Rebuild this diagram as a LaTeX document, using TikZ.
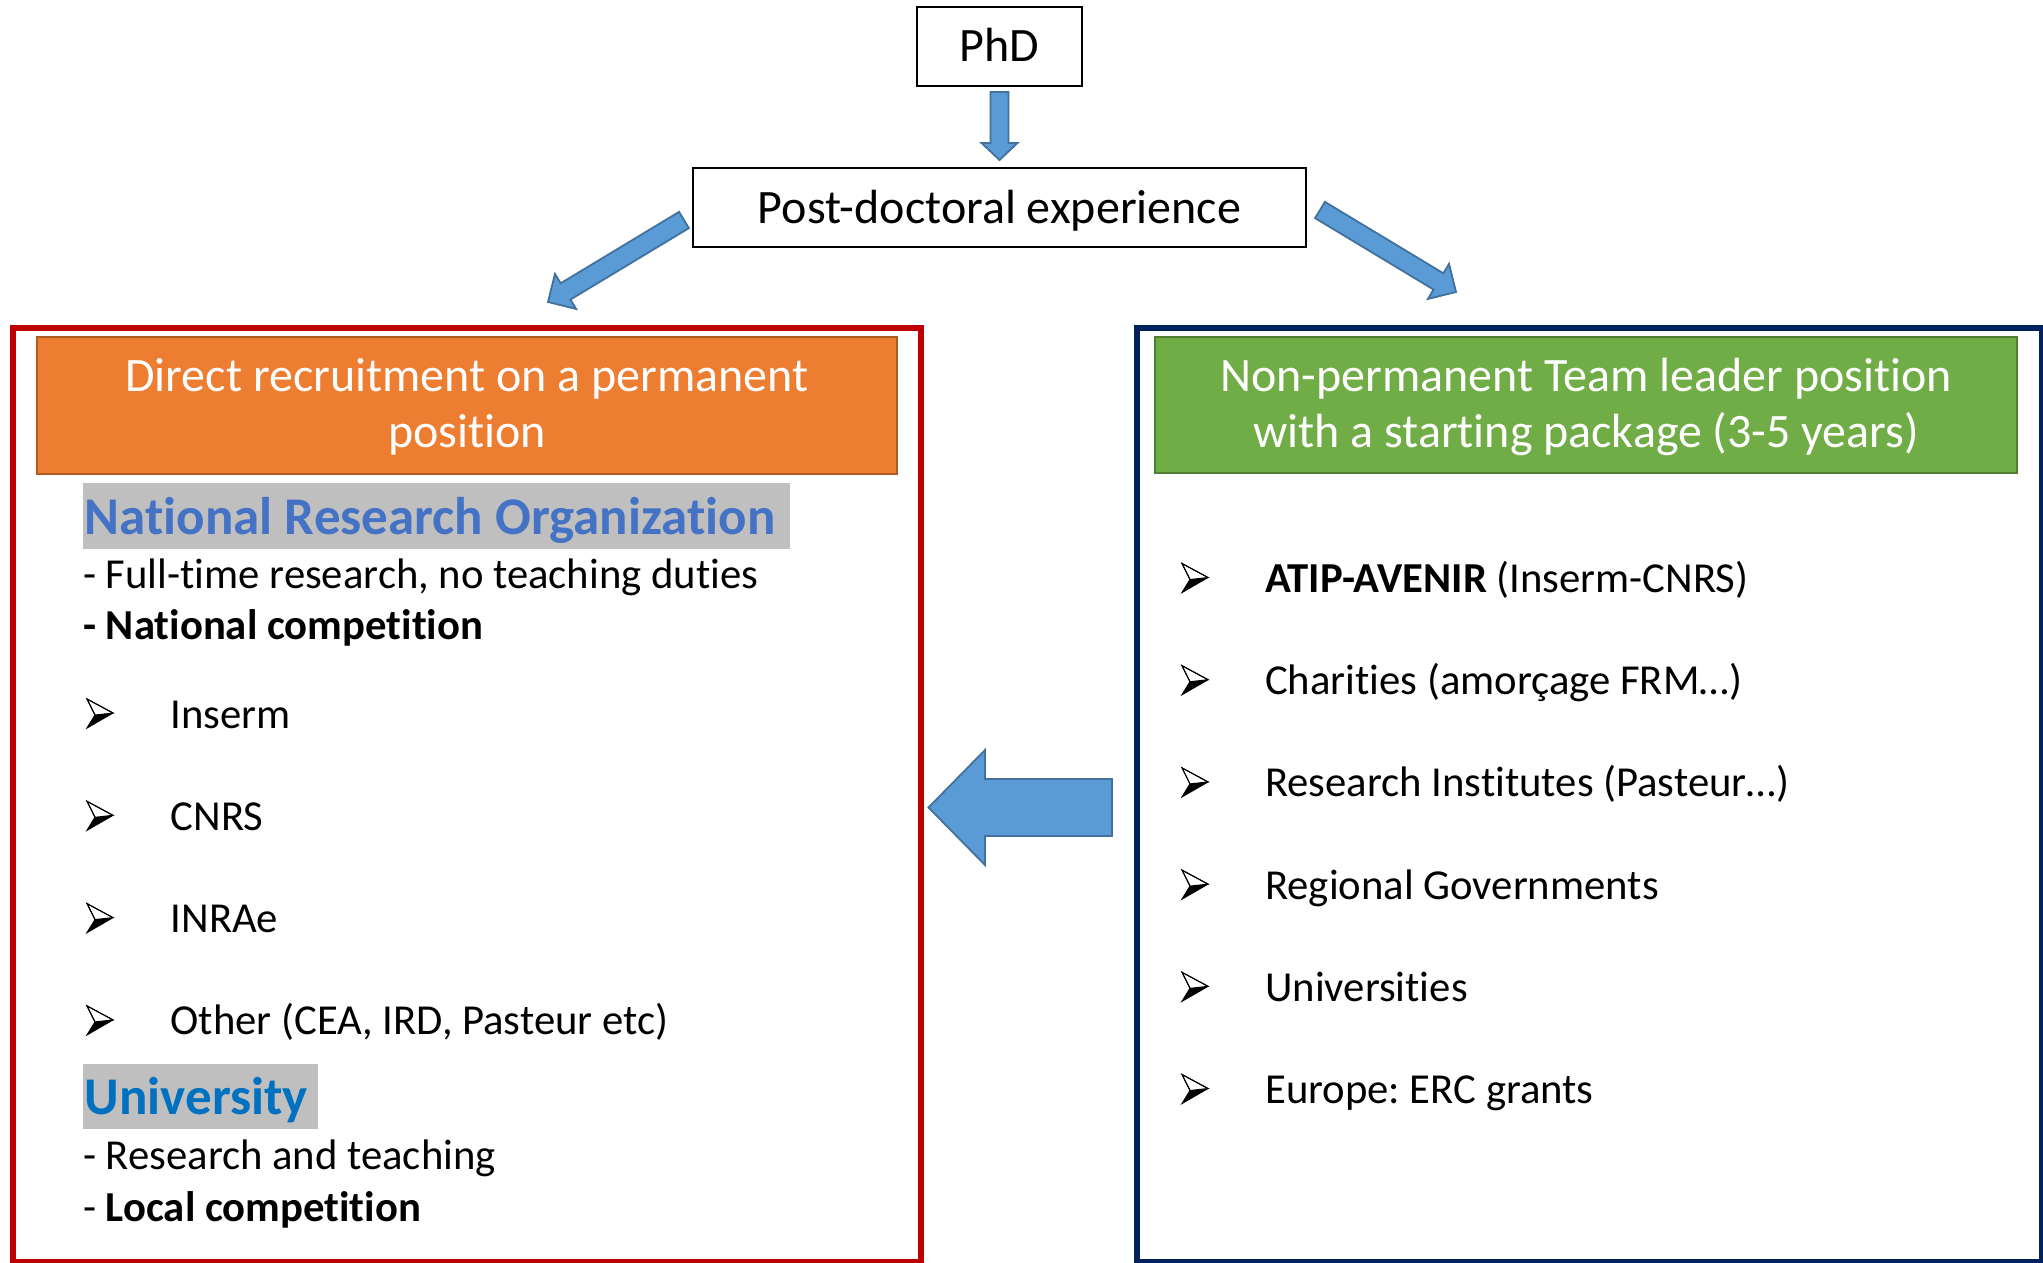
\documentclass[tikz,border=0pt]{standalone}
\usepackage{fontspec}
\setmainfont{Carlito}[Ligatures={NoCommon}]
\usetikzlibrary{calc}
\definecolor{arrfill}{HTML}{5B9BD5}
\definecolor{arrline}{HTML}{41719C}
\definecolor{redline}{HTML}{C00000}
\definecolor{navyline}{HTML}{002060}
\definecolor{orfill}{HTML}{ED7D31}
\definecolor{orline}{HTML}{AE5A21}
\definecolor{grfill}{HTML}{70AD47}
\definecolor{grline}{HTML}{507E32}
\definecolor{hlgray}{HTML}{BFBFBF}
\definecolor{nroblue}{HTML}{4472C4}
\definecolor{unblue}{HTML}{0070C0}
\tikzset{
  plainbox/.style={draw=black, line width=2pt, fill=white, inner sep=0pt, outer sep=0pt, text height=40pt, text depth=9pt, font=\fontsize{48}{57}\selectfont},
  barrow/.style={fill=arrfill, draw=arrline, line width=1.8pt, line join=miter},
  hdr/.style={inner sep=0pt, outer sep=0pt, line width=2.5pt},
  hdrtext/.style={anchor=base, inner sep=0pt, text=white, font=\fontsize{48}{57}\selectfont},
  frame/.style={line width=5.5pt, inner sep=0pt, outer sep=0pt},
  body/.style={anchor=base west, inner sep=0pt, font=\fontsize{42.7}{51}\selectfont},
  hlbox/.style={anchor=north west, fill=hlgray, inner sep=0pt, outer sep=0pt},
  hltext/.style={anchor=base west, inner sep=0pt, font=\bfseries\fontsize{53}{63}\selectfont},
  bulletpic/.pic={
    \fill[black] (8,-13) -- (0,0) -- (26,-15) -- cycle;
    \draw[black, line width=1pt, fill=white, line join=miter] (0,-29) -- (26,-15) -- (8,-13) -- cycle;
    \draw[black, line width=1pt, line join=miter] (0,-29) -- (26,-15) -- (0,0) -- (8,-13) -- cycle;
  }
}
\newcommand\blockarrow[5]{%
  \coordinate (tmpH) at ($(#2)!#5!(#1)$);
  \draw[barrow] ($(#1)!#3!-90:(#2)$) -- ($(tmpH)!#3!90:(#1)$) -- ($(tmpH)!#4!90:(#1)$) -- (#2) -- ($(tmpH)!#4!-90:(#1)$) -- ($(tmpH)!#3!-90:(#1)$) -- ($(#1)!#3!90:(#2)$) -- cycle;}
\begin{document}
\frenchspacing
\begin{tikzpicture}[x=1pt,y=-1pt]
\useasboundingbox (0,0) rectangle (2043,1263);
% top boxes
\node[plainbox, minimum width=165pt, minimum height=79pt] (phd) at (999.5,46.5) {PhD};
\node[plainbox, minimum width=613pt, minimum height=79pt] (post) at (999.5,207.5) {Post-doctoral experience};
% frames
\node[frame, draw=redline, minimum width=908pt, minimum height=934pt] (redbox) at (467,795) {};
\node[frame, draw=navyline, minimum width=905pt, minimum height=934pt] (navybox) at (1589.5,795) {};
% headers
\node[hdr, fill=orfill, draw=orline, minimum width=860pt, minimum height=137pt] (orange) at (467,405.5) {};
\node[hdrtext] (orangeT1) at (467,391.7) {Direct recruitment on a permanent};
\node[hdrtext] (orangeT2) at (467,447.7) {position};
\node[hdr, fill=grfill, draw=grline, minimum width=862pt, minimum height=136pt] (green) at (1586,405) {};
\node[hdrtext] (greenT1) at (1586,391.7) {Non-permanent Team leader position};
\node[hdrtext] (greenT2) at (1586,447.7) {with a starting package (3-5 years)};
% left column
\node[hlbox, minimum width=707pt, minimum height=66pt] (nroBox) at (83,483) {};
\node[hltext, text=nroblue] (nro) at (84.5,534) {National Research Organization};
\node[body] (l1) at (83,588) {- Full-time research, no teaching duties};
\node[body] (l2) at (83,639) {\textbf{- National competition}};
\pic (bl1) at (87,728) {bulletpic};
\node[body] (i1) at (170.5,728) {Inserm};
\pic (bl2) at (87,830.3) {bulletpic};
\node[body] (i2) at (170.5,830.3) {CNRS};
\pic (bl3) at (87,932.6) {bulletpic};
\node[body] (i3) at (170.5,932.6) {INRAe};
\pic (bl4) at (87,1034.9) {bulletpic};
\node[body] (i4) at (170.5,1034.9) {Other (CEA, IRD, Pasteur etc)};
\node[hlbox, minimum width=235pt, minimum height=65pt] (univBox) at (83,1064) {};
\node[hltext, text=unblue] (univ) at (84.5,1114) {University};
\node[body] (l3) at (83,1169) {- Research and teaching};
\node[body] (l4) at (83,1221) {- \textbf{Local competition}};
% right column
\pic (br1) at (1182,592.5) {bulletpic};
\node[body] (r1) at (1265,592.5) {\textbf{ATIP-AVENIR} (Inserm-CNRS)};
\pic (br2) at (1182,694.7) {bulletpic};
\node[body] (r2) at (1265,694.7) {Charities (amorçage FRM…)};
\pic (br3) at (1182,796.9) {bulletpic};
\node[body] (r3) at (1265,796.9) {Research Institutes (Pasteur…)};
\pic (br4) at (1182,899.1) {bulletpic};
\node[body] (r4) at (1265,899.1) {Regional Governments};
\pic (br5) at (1182,1001.3) {bulletpic};
\node[body] (r5) at (1265,1001.3) {Universities};
\pic (br6) at (1182,1103.5) {bulletpic};
\node[body] (r6) at (1265,1103.5) {Europe: ERC grants};
% arrows
\coordinate (d1s) at ($(phd.south)+(0,6)$);
\coordinate (d1e) at ($(post.north)+(0,-8)$);
\coordinate (d2s) at ($(post.south west)+(-9,-27)$);
\coordinate (d2e) at ($(redbox.north)+(81,-26)$);
\coordinate (d3s) at ($(post.south east)+(14,-37)$);
\coordinate (d3e) at ($(navybox.north)+(-133.5,-36)$);
\coordinate (d4s) at ($(navybox.west)+(-25,12.5)$);
\coordinate (d4e) at ($(redbox.east)+(7.5,12.5)$);
\blockarrow{d1s}{d1e}{9pt}{18pt}{17pt}
\blockarrow{d2s}{d2e}{9.5pt}{20.5pt}{20.5pt}
\blockarrow{d3s}{d3e}{9.5pt}{20.5pt}{20.5pt}
\blockarrow{d4s}{d4e}{28.5pt}{57.5pt}{56.5pt}
\end{tikzpicture}
\end{document}
